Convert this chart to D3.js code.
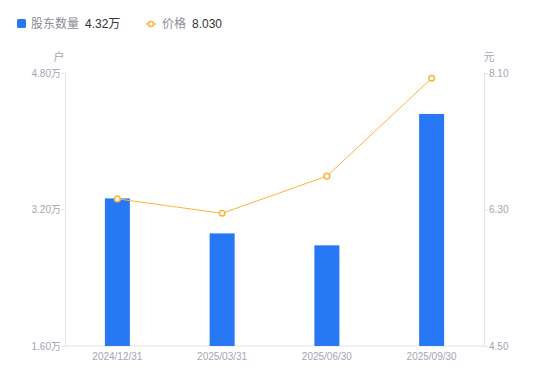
<!DOCTYPE html>
<html><head><meta charset="utf-8">
<script src="https://cdn.jsdelivr.net/npm/d3@7"></script>
<style>body{margin:0;background:#fff;font-family:"Liberation Sans","Noto Sans CJK SC",sans-serif;}</style>
</head><body><svg id="c" width="550" height="381"></svg>
<script>
const categories = ["2024/12/31","2025/03/31","2025/06/30","2025/09/30"];
const holders = [3.33, 2.92, 2.78, 4.32]; // 万户
const prices = [6.44, 6.25, 6.74, 8.03];
const leftTicks = [1.6, 3.2, 4.8];
const rightTicks = [4.5, 6.3, 8.1];

const svg = d3.select("#c");
const m = {l:65, r:484, t:73, b:346};
const x = d3.scaleBand().domain(categories).range([m.l, m.r]);
const yL = d3.scaleLinear().domain([1.6, 4.8]).range([m.b, m.t]);
const yR = d3.scaleLinear().domain([4.5, 8.1]).range([m.b, m.t]);
const axisCol = "#e3e3e6", labCol = "#a3a5b3";
const numFont = "'Liberation Sans','Noto Sans CJK SC',sans-serif";

const gl = svg.append("g").attr("transform",`translate(${m.l},0)`)
  .call(d3.axisLeft(yL).tickValues(leftTicks).tickSize(4).tickFormat(d=>d.toFixed(2)+"万"));
const gr = svg.append("g").attr("transform",`translate(${m.r},0)`)
  .call(d3.axisRight(yR).tickValues(rightTicks).tickSize(4).tickFormat(d=>d.toFixed(2)));
const gb = svg.append("g").attr("transform",`translate(0,${m.b})`)
  .call(d3.axisBottom(x).tickSize(0).tickPadding(7));
[gl,gr,gb].forEach(g=>{
  g.selectAll(".domain").attr("stroke",axisCol);
  g.selectAll(".tick line").attr("stroke",axisCol);
  g.selectAll("text").attr("fill",labCol).style("font-size","10px").style("font-family",numFont);
});
gl.selectAll("text").attr("x",-4);
gr.selectAll("text").attr("x",5);
gb.select(".domain").attr("d",`M${m.l},0H${m.r}`);

svg.append("text").attr("x",59).attr("y",61).attr("text-anchor","middle").attr("fill",labCol).style("font-size","11px").style("font-family","'Noto Sans CJK SC',sans-serif").text("户");
svg.append("text").attr("x",489).attr("y",61).attr("text-anchor","middle").attr("fill",labCol).style("font-size","11px").style("font-family","'Noto Sans CJK SC',sans-serif").text("元");

const bw = 25;
svg.append("g").selectAll("rect").data(holders).join("rect")
  .attr("x",(d,i)=>x(categories[i])+x.bandwidth()/2-bw/2)
  .attr("width",bw)
  .attr("y",d=>yL(d)).attr("height",d=>m.b-yL(d))
  .attr("fill","#2878f6");

const lc = "#fbb33a";
const line = d3.line().x((d,i)=>x(categories[i])+x.bandwidth()/2).y(d=>yR(d));
svg.append("path").datum(prices).attr("d",line).attr("fill","none").attr("stroke",lc).attr("stroke-width",1);
svg.append("g").selectAll("circle").data(prices).join("circle")
  .attr("cx",(d,i)=>x(categories[i])+x.bandwidth()/2).attr("cy",d=>yR(d))
  .attr("r",2.8).attr("fill","#fff").attr("stroke",lc).attr("stroke-width",1.5);

const lg = svg.append("g");
lg.append("rect").attr("x",17).attr("y",19).attr("width",9).attr("height",9).attr("rx",1.5).attr("fill","#2878f6");
lg.append("text").attr("x",31).attr("y",28).attr("fill","#8a8c99").style("font-size","12px").style("font-family","'Noto Sans CJK SC',sans-serif").text("股东数量");
lg.append("text").attr("x",85).attr("y",28).attr("fill","#333").style("font-size","12px").style("font-family",numFont).text(holders[3].toFixed(2)+"万");
lg.append("line").attr("x1",146).attr("x2",156).attr("y1",24).attr("y2",24).attr("stroke",lc).attr("stroke-width",1.5);
lg.append("circle").attr("cx",151).attr("cy",24).attr("r",2.5).attr("fill","#fff").attr("stroke",lc).attr("stroke-width",1.5);
lg.append("text").attr("x",162).attr("y",28).attr("fill","#8a8c99").style("font-size","12px").style("font-family","'Noto Sans CJK SC',sans-serif").text("价格");
lg.append("text").attr("x",192).attr("y",28).attr("fill","#333").style("font-size","12px").style("font-family",numFont).text(prices[3].toFixed(3));
</script></body></html>
